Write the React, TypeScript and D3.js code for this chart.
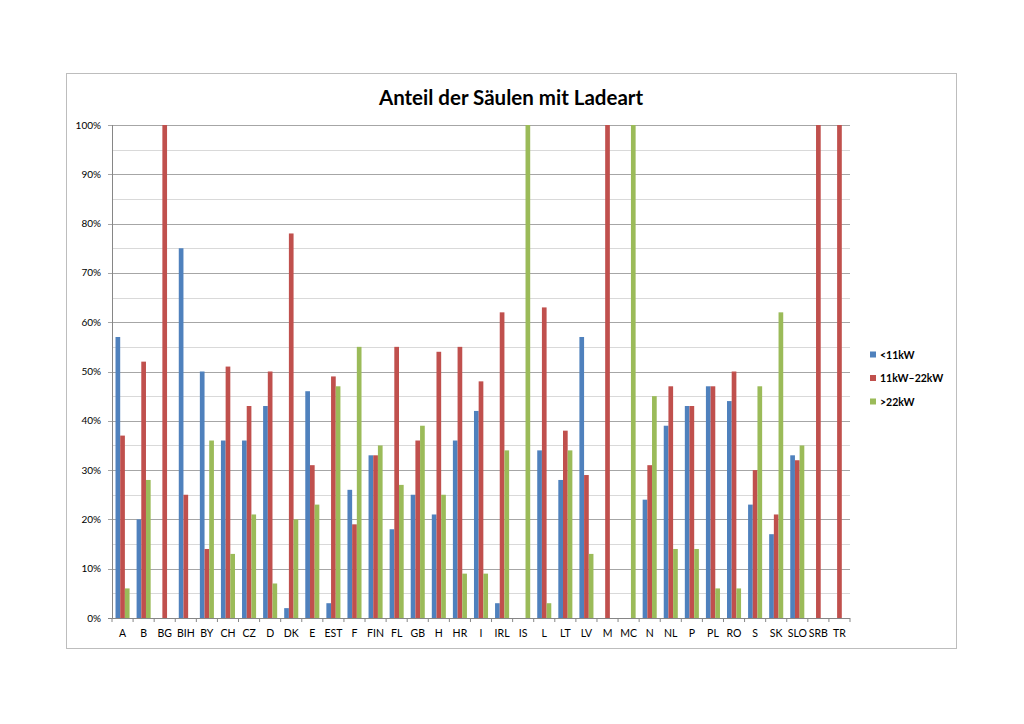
import React from 'react';
import * as d3 from 'd3';

const countries = ['A', 'B', 'BG', 'BIH', 'BY', 'CH', 'CZ', 'D', 'DK', 'E', 'EST', 'F', 'FIN', 'FL', 'GB', 'H', 'HR', 'I', 'IRL', 'IS', 'L', 'LT', 'LV', 'M', 'MC', 'N', 'NL', 'P', 'PL', 'RO', 'S', 'SK', 'SLO', 'SRB', 'TR'];

const under11 = [57, 20, 0, 75, 50, 36, 36, 43, 2, 46, 3, 26, 33, 18, 25, 21, 36, 42, 3, 0, 34, 28, 57, 0, 0, 24, 39, 43, 47, 44, 23, 17, 33, 0, 0];
const mid11to22 = [37, 52, 100, 25, 14, 51, 43, 50, 78, 31, 49, 19, 33, 55, 36, 54, 55, 48, 62, 0, 63, 38, 29, 100, 0, 31, 47, 43, 47, 50, 30, 21, 32, 100, 100];
const over22 = [6, 28, 0, 0, 36, 13, 21, 7, 20, 23, 47, 55, 35, 27, 39, 25, 9, 9, 34, 100, 3, 34, 13, 0, 100, 45, 14, 14, 6, 6, 47, 62, 35, 0, 0];

const seriesNames = ['<11kW', '11kW\u201322kW', '>22kW'];
const seriesColors = ['#4F81BD', '#C0504D', '#9BBB59'];
const seriesValues = [under11, mid11to22, over22];

const majorTicks = [0, 10, 20, 30, 40, 50, 60, 70, 80, 90, 100];
const minorTicks = [5, 15, 25, 35, 45, 55, 65, 75, 85, 95];

const W = 1024;
const H = 724;
const plot = { left: 112, right: 850, top: 125, bottom: 618 };
const font = 'Lato, "Open Sans", sans-serif';

export default function App() {
  const n = countries.length;
  const x0 = d3.scaleBand<string>().domain(countries)
    .range([plot.left, plot.right])
    .paddingInner(1.5 / 4.5).paddingOuter(0.75 / 4.5);
  const x1 = d3.scaleBand<string>().domain(seriesNames).range([0, x0.bandwidth()]);
  const y = d3.scaleLinear().domain([0, 100]).range([plot.bottom, plot.top]);
  const step = x0.step();
  const boundaries = d3.range(n + 1).map(i => plot.left + i * step);

  return (
    <div style={{ position: 'absolute', left: 0, top: 0 }}>
      <svg width={W} height={H} style={{ display: 'block', background: '#fff' }}>
        <rect x={66.5} y={73.5} width={890} height={575} fill="#fff" stroke="#bdbdbd" strokeWidth={1} />
        <text x={511} y={105} textAnchor="middle" fontFamily={font} fontWeight={700} fontSize={20.5} fill="#000">
          Anteil der Säulen mit Ladeart
        </text>

        {minorTicks.map(t => (
          <line key={'mi' + t} x1={plot.left} x2={plot.right} y1={Math.round(y(t)) + 0.5} y2={Math.round(y(t)) + 0.5}
            stroke="#d9d9d9" strokeWidth={1} />
        ))}
        {majorTicks.map(t => (
          <g key={'ma' + t}>
            <line x1={plot.left - 4} x2={plot.right} y1={Math.round(y(t)) + 0.5} y2={Math.round(y(t)) + 0.5}
              stroke={t === 0 ? '#868686' : '#a6a6a6'} strokeWidth={1} />
            <text x={101} y={y(t) + 3.5} textAnchor="end" fontFamily={font} fontSize={10} fill="#000">{t}%</text>
          </g>
        ))}

        {countries.map((c, ci) => (
          <g key={c}>
            {seriesValues.map((vals, si) => vals[ci] > 0 && (
              <rect key={si}
                x={(x0(c) ?? 0) + (x1(seriesNames[si]) ?? 0)}
                width={x1.bandwidth()}
                y={y(vals[ci])}
                height={y(0) - y(vals[ci])}
                fill={seriesColors[si]} />
            ))}
            <text x={(x0(c) ?? 0) + x0.bandwidth() / 2} y={637} textAnchor="middle" fontFamily={font} fontSize={10.5} fill="#000">{c}</text>
          </g>
        ))}

        <line x1={plot.left + 0.5} x2={plot.left + 0.5} y1={plot.top} y2={plot.bottom} stroke="#868686" strokeWidth={1} />
        <line x1={plot.left} x2={plot.right} y1={plot.bottom + 0.5} y2={plot.bottom + 0.5} stroke="#868686" strokeWidth={1} />
        {boundaries.map((bx, i) => (
          <line key={'bt' + i} x1={bx} x2={bx} y1={plot.bottom} y2={plot.bottom + 4} stroke="#868686" strokeWidth={1} />
        ))}

        {seriesNames.map((s, i) => (
          <g key={s} transform={`translate(870,${355 + i * 23.5})`}>
            <rect x={0} y={-3.5} width={6} height={6} fill={seriesColors[i]} />
            <text x={10} y={3.5} fontFamily={font} fontWeight={700} fontSize={10.5} fill="#000">{s}</text>
          </g>
        ))}
      </svg>
    </div>
  );
}
